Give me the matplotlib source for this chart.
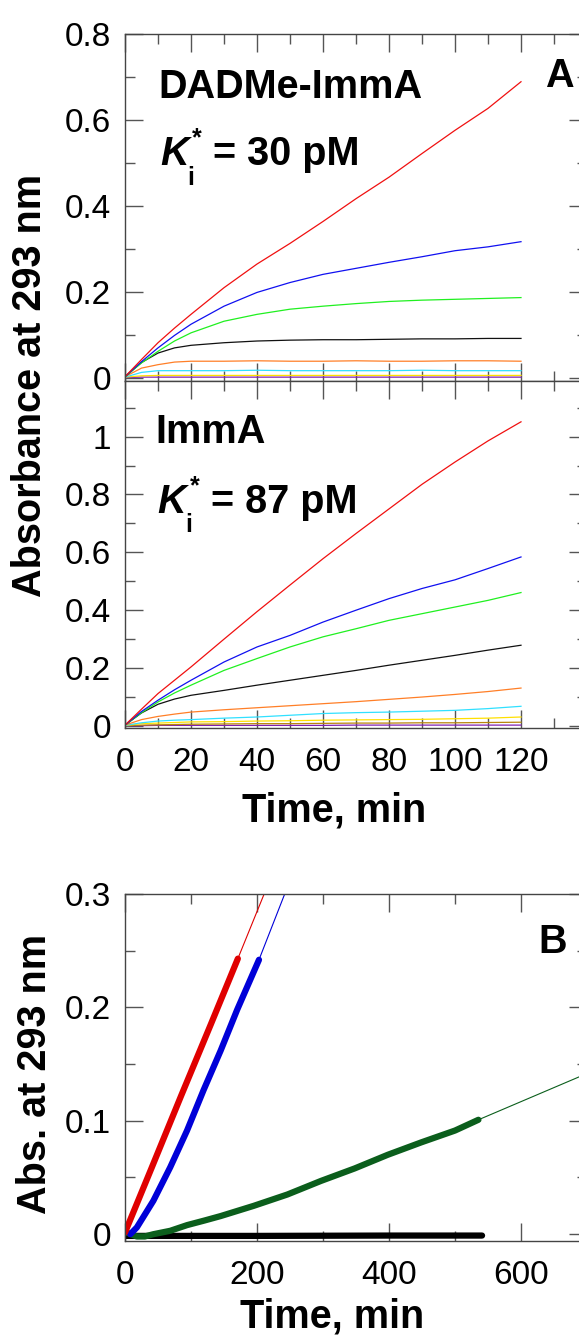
import matplotlib
matplotlib.use('Agg')
import matplotlib.pyplot as plt
from matplotlib.ticker import FixedLocator, FuncFormatter

plt.rcParams['font.family'] = ['Liberation Sans', 'DejaVu Sans']

# ---------------- data: panel A, DADMe-ImmA ----------------
t_a = [0, 5, 10, 15, 20, 30, 40, 50, 60, 70, 80, 90, 100, 110, 120]
dad_red = [0.003, 0.043, 0.082, 0.116, 0.148, 0.210, 0.265, 0.313, 0.364, 0.417, 0.467, 0.522, 0.576, 0.627, 0.689]
dad_blue = [0.003, 0.038, 0.070, 0.099, 0.125, 0.167, 0.199, 0.222, 0.241, 0.255, 0.269, 0.282, 0.296, 0.305, 0.317]
dad_green = [0.003, 0.035, 0.062, 0.086, 0.105, 0.132, 0.148, 0.160, 0.167, 0.173, 0.178, 0.181, 0.183, 0.185, 0.187]
dad_black = [0.003, 0.036, 0.058, 0.070, 0.076, 0.082, 0.086, 0.088, 0.089, 0.089, 0.090, 0.091, 0.091, 0.092, 0.092]
dad_orange = [0.003, 0.023, 0.031, 0.037, 0.039, 0.039, 0.040, 0.039, 0.039, 0.040, 0.039, 0.039, 0.040, 0.040, 0.039]
dad_cyan = [0.002, 0.013, 0.017, 0.017, 0.017, 0.017, 0.018, 0.017, 0.017, 0.017, 0.017, 0.018, 0.017, 0.017, 0.017]
dad_yellow = [0.002, 0.005, 0.006, 0.006, 0.006, 0.006, 0.006, 0.006, 0.006, 0.006, 0.006, 0.006, 0.006, 0.006, 0.006]
dad_purple = [0.001, 0.002, 0.002, 0.002, 0.002, 0.002, 0.002, 0.002, 0.002, 0.002, 0.002, 0.002, 0.002, 0.002, 0.002]

# ---------------- data: panel A, ImmA ----------------
imm_red = [0.003, 0.058, 0.112, 0.158, 0.204, 0.300, 0.395, 0.487, 0.578, 0.665, 0.750, 0.835, 0.912, 0.985, 1.051]
imm_blue = [0.003, 0.050, 0.089, 0.125, 0.158, 0.221, 0.273, 0.313, 0.359, 0.400, 0.440, 0.475, 0.505, 0.544, 0.584]
imm_green = [0.003, 0.046, 0.083, 0.114, 0.141, 0.192, 0.233, 0.273, 0.308, 0.336, 0.365, 0.388, 0.411, 0.434, 0.461]
imm_black = [0.003, 0.045, 0.075, 0.093, 0.106, 0.123, 0.141, 0.158, 0.175, 0.192, 0.210, 0.227, 0.244, 0.262, 0.279]
imm_orange = [0.003, 0.022, 0.033, 0.041, 0.048, 0.056, 0.063, 0.070, 0.077, 0.084, 0.092, 0.100, 0.109, 0.119, 0.131]
imm_cyan = [0.002, 0.011, 0.017, 0.020, 0.022, 0.027, 0.031, 0.037, 0.043, 0.046, 0.048, 0.051, 0.054, 0.060, 0.068]
imm_yellow = [0.002, 0.008, 0.010, 0.012, 0.014, 0.015, 0.017, 0.018, 0.020, 0.021, 0.022, 0.023, 0.025, 0.027, 0.031]
imm_brown = [0.001, 0.003, 0.004, 0.005, 0.006, 0.007, 0.008, 0.008, 0.009, 0.010, 0.010, 0.011, 0.011, 0.012, 0.013]
imm_purple = [0.001, 0.001, 0.002, 0.002, 0.002, 0.002, 0.002, 0.002, 0.002, 0.003, 0.003, 0.003, 0.003, 0.003, 0.003]

# ---------------- data: panel B ----------------
b_red_t = [0, 40, 85, 130, 171]
b_red_a = [0.0015, 0.058, 0.122, 0.185, 0.243]
b_red_fit_t = [0, 171, 215]
b_red_fit_a = [0.0015, 0.243, 0.306]

b_blue_t = [8, 18, 43, 68.5, 94, 119, 145, 170, 203]
b_blue_a = [0.0, 0.006, 0.0295, 0.059, 0.0914, 0.127, 0.162, 0.198, 0.242]
b_blue_fit_t = [203, 246]
b_blue_fit_a = [0.242, 0.306]

b_green_t = [0, 18, 30, 43, 68.5, 94, 120, 145, 195, 246, 297, 348, 398, 449, 500, 535.5]
b_green_a = [0.002, -0.002, -0.002, 0.0, 0.003, 0.008, 0.012, 0.016, 0.025, 0.035, 0.047, 0.058, 0.070, 0.081, 0.0914, 0.1009]
b_green_fit_t = [535.5, 700]
b_green_fit_a = [0.1009, 0.1417]

b_black_t = [0, 60, 200, 400, 541]
b_black_a = [-0.0015, -0.0015, -0.0015, -0.0012, -0.0012]

colors_a = {'red': '#f01010', 'blue': '#1010f0', 'green': '#20f020', 'black': '#111111',
            'orange': '#ff7f27', 'cyan': '#30e0ff', 'yellow': '#ffe000', 'brown': '#b8860b',
            'purple': '#8020b0'}

W, H = 579, 1335
fig = plt.figure(figsize=(W / 100, H / 100), dpi=100)


def ax_at(l, t, r, b):
    return fig.add_axes([l / W, 1 - b / H, (r - l) / W, (b - t) / H])


def fx(x):
    return x / W


def fy(y):
    return 1 - y / H


fmt = FuncFormatter(lambda v, p: '%g' % round(v, 6))


def style(ax):
    for s in ax.spines.values():
        s.set_color('#444444')
        s.set_linewidth(1.0)
    ax.tick_params(which='both', direction='in', top=True, right=True,
                   color='#555555', width=1.0, labelsize=24)
    ax.tick_params(which='major', length=13)
    ax.tick_params(which='minor', length=7)
    ax.tick_params(axis='y', pad=10)
    ax.tick_params(axis='x', pad=13.5)
    ax.yaxis.set_major_formatter(fmt)
    ax.xaxis.set_major_formatter(fmt)


L, R = 125, 587

# ---- Panel A top ----
ax1 = ax_at(L, 34, R, 381)
for name, ys in [('purple', dad_purple), ('yellow', dad_yellow), ('cyan', dad_cyan),
                 ('orange', dad_orange), ('black', dad_black), ('green', dad_green),
                 ('blue', dad_blue), ('red', dad_red)]:
    ax1.plot(t_a, ys, color=colors_a[name], lw=0.9)
ax1.set_xlim(0, 140)
ax1.set_ylim(-0.007, 0.8)
ax1.xaxis.set_major_locator(FixedLocator([0, 20, 40, 60, 80, 100, 120]))
ax1.xaxis.set_minor_locator(FixedLocator([10, 30, 50, 70, 90, 110, 130]))
ax1.yaxis.set_major_locator(FixedLocator([0, 0.2, 0.4, 0.6, 0.8]))
ax1.yaxis.set_minor_locator(FixedLocator([0.1, 0.3, 0.5, 0.7]))
style(ax1)
ax1.tick_params(labelbottom=False)

# ---- Panel A bottom ----
ax2 = ax_at(L, 381, R, 728)
for name, ys in [('purple', imm_purple), ('brown', imm_brown), ('yellow', imm_yellow),
                 ('cyan', imm_cyan), ('orange', imm_orange), ('black', imm_black),
                 ('green', imm_green), ('blue', imm_blue), ('red', imm_red)]:
    ax2.plot(t_a, ys, color=colors_a[name], lw=0.9)
ax2.set_xlim(0, 140)
ax2.set_ylim(-0.007, 1.192)
ax2.xaxis.set_major_locator(FixedLocator([0, 20, 40, 60, 80, 100, 120]))
ax2.xaxis.set_minor_locator(FixedLocator([10, 30, 50, 70, 90, 110, 130]))
ax2.yaxis.set_major_locator(FixedLocator([0, 0.2, 0.4, 0.6, 0.8, 1.0]))
ax2.yaxis.set_minor_locator(FixedLocator([0.1, 0.3, 0.5, 0.7, 0.9, 1.1]))
style(ax2)

# ---- Panel B ----
ax3 = ax_at(L, 894, R, 1241)
ax3.plot(b_black_t, b_black_a, color='#000000', lw=4.5, solid_capstyle='round')
ax3.plot(b_green_t, b_green_a, color='#0b5e1c', lw=4.5, solid_capstyle='round')
ax3.plot(b_green_fit_t, b_green_fit_a, color='#0b5e1c', lw=0.8)
ax3.plot(b_blue_t, b_blue_a, color='#0000d8', lw=4.5, solid_capstyle='round')
ax3.plot(b_blue_fit_t, b_blue_fit_a, color='#0000d8', lw=0.8)
ax3.plot(b_red_t, b_red_a, color='#e00000', lw=4.5, solid_capstyle='round')
ax3.plot(b_red_fit_t, b_red_fit_a, color='#e00000', lw=0.8)
ax3.set_xlim(0, 700)
ax3.set_ylim(-0.006, 0.3)
ax3.xaxis.set_major_locator(FixedLocator([0, 200, 400, 600]))
ax3.xaxis.set_minor_locator(FixedLocator([100, 300, 500, 700]))
ax3.yaxis.set_major_locator(FixedLocator([0, 0.1, 0.2, 0.3]))
ax3.yaxis.set_minor_locator(FixedLocator([0.05, 0.15, 0.25]))
style(ax3)

# ---- Text annotations ----
BIG = 28.5
SMALL = 18
fig.text(fx(158), fy(98), 'DADMe-ImmA', fontsize=BIG, fontweight='bold', va='baseline')
fig.text(fx(160), fy(165), 'K', fontsize=BIG, fontweight='bold', fontstyle='italic', va='baseline')
fig.text(fx(187), fy(185), 'i', fontsize=SMALL, fontweight='bold', va='baseline')
fig.text(fx(192), fy(145), '*', fontsize=SMALL, fontweight='bold', va='baseline')
fig.text(fx(213), fy(165), '= 30 pM', fontsize=BIG, fontweight='bold', va='baseline')

fig.text(fx(155), fy(443), 'ImmA', fontsize=BIG, fontweight='bold', va='baseline')
fig.text(fx(157), fy(513), 'K', fontsize=BIG, fontweight='bold', fontstyle='italic', va='baseline')
fig.text(fx(185), fy(532), 'i', fontsize=SMALL, fontweight='bold', va='baseline')
fig.text(fx(190), fy(493), '*', fontsize=SMALL, fontweight='bold', va='baseline')
fig.text(fx(211), fy(513), '= 87 pM', fontsize=BIG, fontweight='bold', va='baseline')

fig.text(fx(545), fy(87), 'A', fontsize=BIG, fontweight='bold', va='baseline')
fig.text(fx(538), fy(953), 'B', fontsize=BIG, fontweight='bold', va='baseline')

fig.text(fx(30), fy(385), 'Absorbance at 293 nm', fontsize=BIG, fontweight='bold',
         rotation=90, ha='center', va='center')
fig.text(fx(35), fy(1074), 'Abs. at 293 nm', fontsize=BIG, fontweight='bold',
         rotation=90, ha='center', va='center')
fig.text(fx(334), fy(821), 'Time, min', fontsize=BIG, fontweight='bold', ha='center', va='baseline')
fig.text(fx(332), fy(1328), 'Time, min', fontsize=BIG, fontweight='bold', ha='center', va='baseline')

fig.savefig('out.png', dpi=100)
